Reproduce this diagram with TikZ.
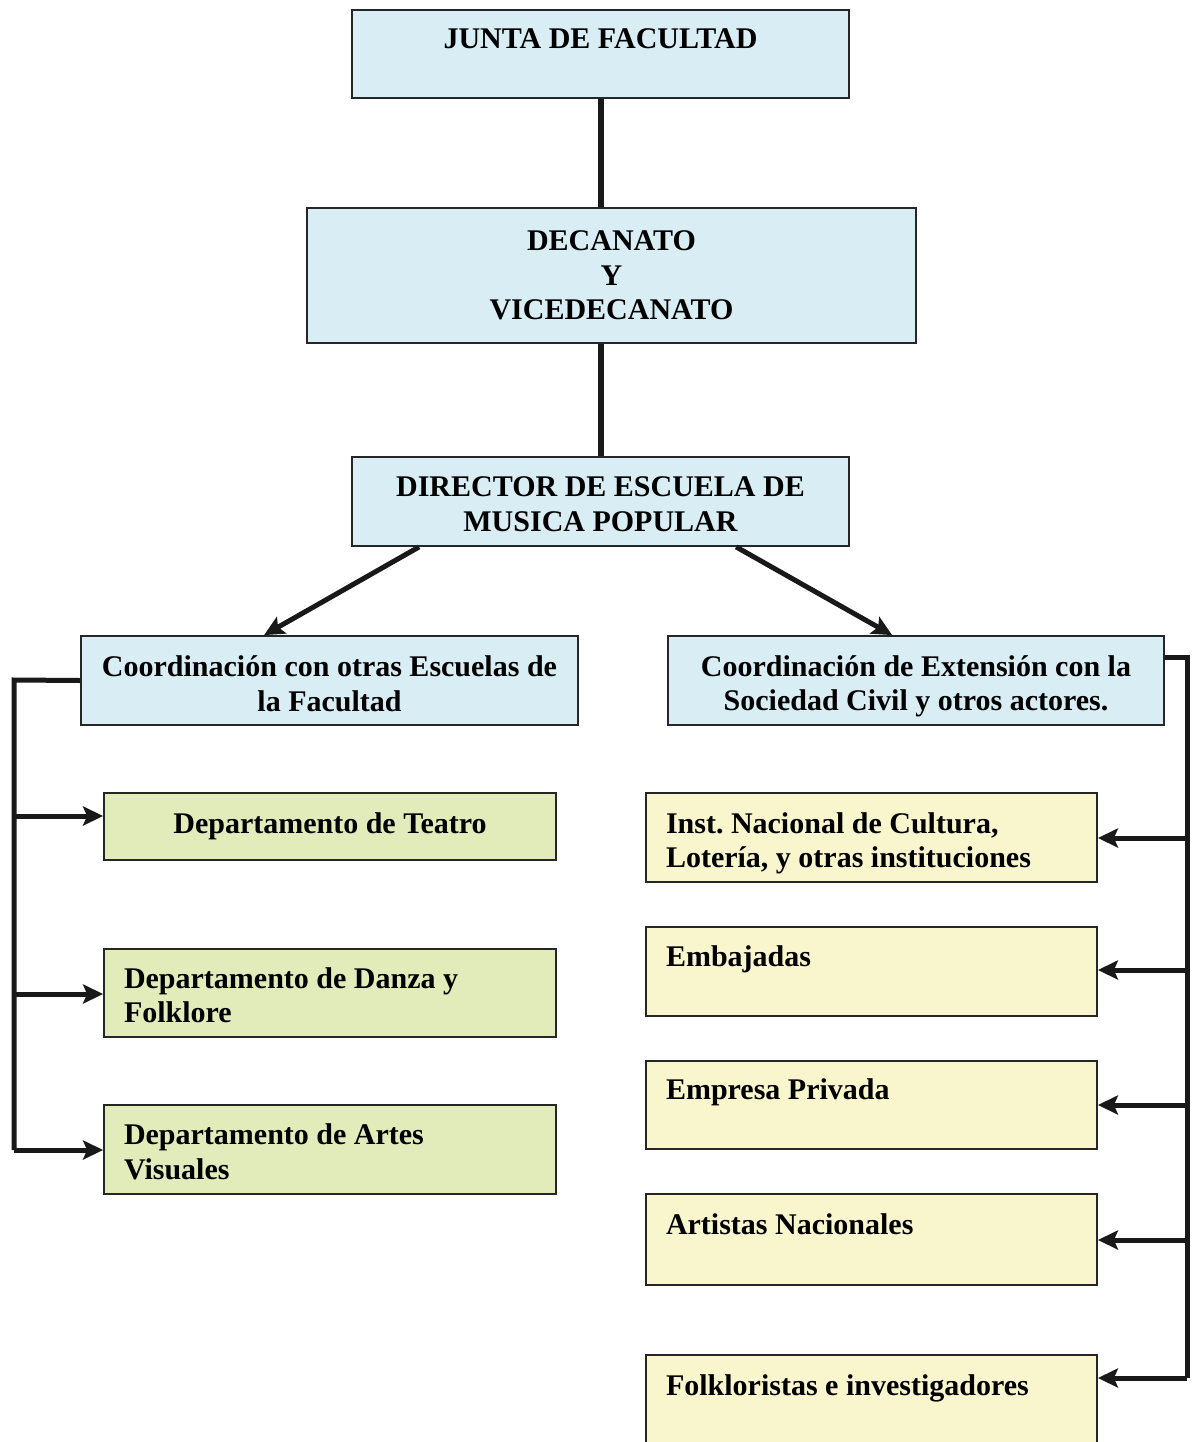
\documentclass[tikz,border=0pt]{standalone}
\usepackage{fontspec}
\setmainfont{Liberation Serif}
\usetikzlibrary{arrows.meta,calc}
\definecolor{boxblue}{RGB}{216,237,244}
\definecolor{boxgreen}{RGB}{226,236,186}
\definecolor{boxyellow}{RGB}{249,245,204}
\frenchspacing
\begin{document}
\begin{tikzpicture}[x=1pt,y=-1pt,
  box/.style={draw=black!85, line width=1.8pt, inner sep=0pt,
    font=\bfseries\fontsize{30}{34.5}\selectfont, align=center},
  bluebox/.style={box, fill=boxblue},
  greenbox/.style={box, fill=boxgreen},
  yellowbox/.style={box, fill=boxyellow},
  leftbox/.style={text width=#1, align=flush left},
  conn/.style={draw=black!90, line width=6pt},
  arr/.style={draw=black!90, line width=5pt, -{Stealth[length=20pt,width=19pt,inset=4pt]}}
]
\useasboundingbox (0,0) rectangle (1191,1442);
\fill[white] (0,0) rectangle (1191,1442);

% top chain
\node[bluebox, minimum width=497pt, minimum height=88pt] (junta) at (600.5,54) {JUNTA DE FACULTAD\\[-14pt]\strut};
\node[bluebox, minimum width=609pt, minimum height=135pt] (deca) at (611.5,275.5) {DECANATO\\Y\\VICEDECANATO};
\node[bluebox, minimum width=497pt, minimum height=89pt] (dir) at (600.5,501.5) {\rule{0pt}{25pt}DIRECTOR DE ESCUELA DE\\MUSICA POPULAR};

% coordinations
\node[bluebox, minimum width=497pt, minimum height=89pt] (coordL) at (329.5,680.5) {\rule{0pt}{27pt}Coordinación con otras Escuelas de\\la Facultad};
\node[bluebox, minimum width=496pt, minimum height=89pt] (coordR) at (916,680.5) {\rule{0pt}{32pt}Coordinación de Extensión con la\\Sociedad Civil y otros actores.};

% left departments
\node[greenbox, minimum width=452pt, minimum height=67pt] (teatro) at (330,826.5) {Departamento de Teatro};
\node[greenbox, minimum width=452pt, minimum height=88pt, leftbox=412pt] (danza) at (330,993) {\rule{0pt}{25pt}Departamento de Danza y\\Folklore};
\node[greenbox, minimum width=452pt, minimum height=89pt, leftbox=412pt] (artes) at (330,1149.5) {\rule{0pt}{25pt}Departamento de Artes\\Visuales};

% right institutions
\node[yellowbox, minimum width=451pt, minimum height=89pt, leftbox=411pt] (inst) at (871.5,837.5) {\rule{0pt}{32pt}Inst. Nacional de Cultura,\\Lotería, y otras instituciones};
\node[yellowbox, minimum width=451pt, minimum height=89pt, leftbox=411pt] (emb) at (871.5,971.5) {Embajadas\\[-14pt]\strut};
\node[yellowbox, minimum width=451pt, minimum height=88pt, leftbox=411pt] (emp) at (871.5,1105) {Empresa Privada\\[-14pt]\strut};
\node[yellowbox, minimum width=451pt, minimum height=91pt, leftbox=411pt] (art) at (871.5,1239.5) {Artistas Nacionales\\[-14pt]\strut};
\node[yellowbox, minimum width=451pt, minimum height=91pt, leftbox=411pt] (folk) at (871.5,1400.5) {Folkloristas e investigadores\\[-14pt]\strut};

% vertical links
\draw[conn] (junta.south) -- (junta.south |- deca.north);
\draw[conn] (junta.south |- deca.south) -- (dir.north);

% diagonals
\draw[arr] ($(dir.south west)+(68,0)$) -- ($(coordL.north west)+(184,0)$);
\draw[arr] ($(dir.south west)+(385,0)$) -- ($(coordL.north west)+(812,0)$);

% left bus
\coordinate (lb0) at (14,680);
\coordinate (lb1) at (14,816);
\coordinate (lb2) at (14,994);
\coordinate (lb3) at (14,1150);
\draw[conn, line width=5pt, line join=miter] (coordL.west) -- (lb0) -- (lb3);
\draw[arr] (lb1) -- (lb1 -| teatro.west);
\draw[arr] (lb2) -- (lb2 -| danza.west);
\draw[arr] (lb3) -- (lb3 -| artes.west);

% right bus
\coordinate (rb0) at (1187,657);
\coordinate (rb1) at (1187,838);
\coordinate (rb2) at (1187,970);
\coordinate (rb3) at (1187,1105);
\coordinate (rb4) at (1187,1240);
\coordinate (rb5) at (1187,1378);
\draw[conn, line width=5pt, line join=miter] (rb0 -| coordR.east) -- (rb0) -- (rb5);
\draw[arr] (rb1) -- (rb1 -| inst.east);
\draw[arr] (rb2) -- (rb2 -| emb.east);
\draw[arr] (rb3) -- (rb3 -| emp.east);
\draw[arr] (rb4) -- (rb4 -| art.east);
\draw[arr] (rb5) -- (rb5 -| folk.east);
\end{tikzpicture}
\end{document}
